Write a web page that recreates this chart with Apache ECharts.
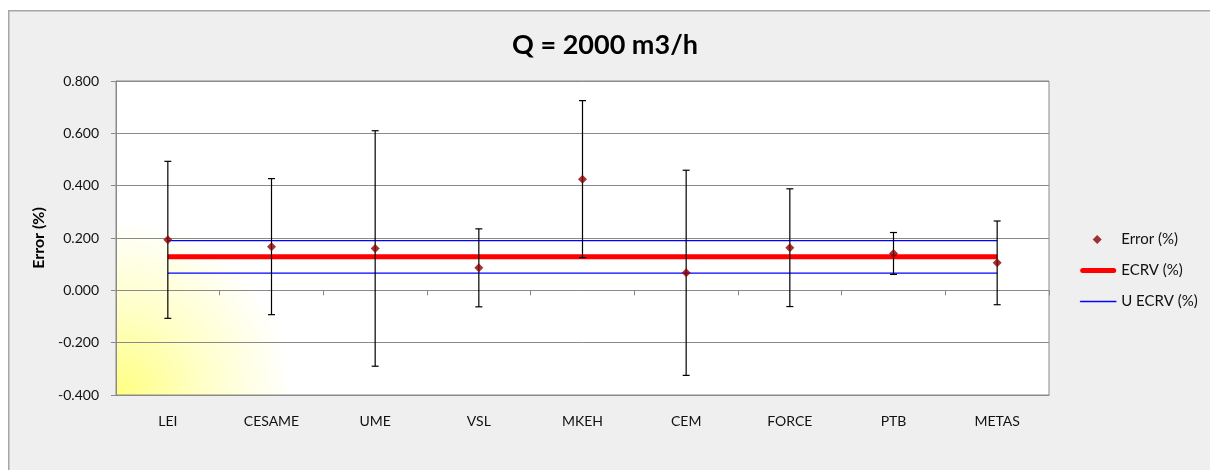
<!DOCTYPE html>
<html>
<head>
<meta charset="utf-8">
<script src="https://cdn.jsdelivr.net/npm/echarts@6/dist/echarts.min.js"></script>
<style>
html,body{margin:0;padding:0;background:#ffffff;}
#chart{width:1210px;height:470px;}
</style>
</head>
<body>
<div id="chart"></div>
<script>
const categories = ['LEI','CESAME','UME','VSL','MKEH','CEM','FORCE','PTB','METAS'];
const errorValues = [0.193, 0.167, 0.160, 0.086, 0.425, 0.067, 0.163, 0.141, 0.105];
const errorUncert = [0.300, 0.260, 0.450, 0.149, 0.300, 0.392, 0.225, 0.080, 0.160];
const ecrvValues  = [0.128, 0.128, 0.128, 0.128, 0.128, 0.128, 0.128, 0.128, 0.128];
const uEcrvUpper  = [0.190, 0.190, 0.190, 0.190, 0.190, 0.190, 0.190, 0.190, 0.190];
const uEcrvLower  = [0.066, 0.066, 0.066, 0.066, 0.066, 0.066, 0.066, 0.066, 0.066];
const yTicks = [-0.4, -0.2, 0, 0.2, 0.4, 0.6, 0.8];

const FONT = 'Lato, "Open Sans", sans-serif';
const barData = categories.map((c, i) => [i, errorValues[i] - errorUncert[i], errorValues[i] + errorUncert[i]]);

const chart = echarts.init(document.getElementById('chart'), null, {renderer: 'canvas'});
chart.setOption({
  backgroundColor: '#ffffff',
  animation: false,
  textStyle: {fontFamily: FONT},
  graphic: [{
    type: 'rect', left: 8, top: 10, z: -100, silent: true,
    shape: {width: 1230, height: 490},
    style: {fill: '#efefef', stroke: '#a6a6a6', lineWidth: 1.5}
  }],
  title: {
    text: 'Q = 2000 m3/h',
    left: 'center', top: 27,
    textStyle: {fontFamily: FONT, fontSize: 27, fontWeight: 'bold', color: '#000'}
  },
  legend: {
    orient: 'vertical',
    left: 1075, top: 227,
    itemWidth: 36, itemHeight: 10, itemGap: 16,
    textStyle: {fontFamily: FONT, fontSize: 15, color: '#111'},
    data: [
      {name: 'Error (%)', icon: 'path://M0,0 M17,0.5 L21.5,5 L17,9.5 L12.5,5 Z M36,10',
        itemStyle: {color: '#8b0000', borderWidth: 0}},
      {name: 'ECRV (%)', icon: 'path://M0,0 M2.5,2.5 L33.5,2.5 Q36,2.5 36,5 Q36,7.5 33.5,7.5 L2.5,7.5 Q0,7.5 0,5 Q0,2.5 2.5,2.5 Z M36,10',
        itemStyle: {color: '#ff0000', borderWidth: 0}},
      {name: 'U ECRV (%)', icon: 'path://M0,0 M0,4.4 L36,4.4 L36,5.6 L0,5.6 Z M36,10',
        itemStyle: {color: '#0000ff', borderColor: '#0000ff', borderWidth: 0.4},
        lineStyle: {color: '#0000ff'}}
    ]
  },
  grid: {
    left: 116, right: 161, top: 81, bottom: 75,
    show: true,
    borderColor: '#8a8a8a', borderWidth: 1,
    backgroundColor: new echarts.graphic.RadialGradient(0, 1, 0.56, [
      {offset: 0, color: '#ffff80'},
      {offset: 0.5, color: '#ffffc8'},
      {offset: 1, color: '#ffffff'}
    ])
  },
  xAxis: [{
    type: 'category', data: categories, boundaryGap: true,
    position: 'bottom',
    axisLine: {onZero: false, show: true, lineStyle: {color: '#8a8a8a'}},
    axisTick: {show: false},
    axisLabel: {fontFamily: FONT, fontSize: 14, color: '#111', margin: 19},
    splitLine: {show: false}
  }, {
    type: 'category', data: categories, boundaryGap: true,
    position: 'bottom',
    axisLine: {onZero: true, show: true, lineStyle: {color: '#8a8a8a'}},
    axisTick: {show: true, length: 5, lineStyle: {color: '#8a8a8a'}},
    axisLabel: {show: false},
    splitLine: {show: false}
  }],
  yAxis: {
    type: 'value', min: -0.4, max: 0.8, interval: 0.2,
    name: 'Error (%)', nameLocation: 'middle', nameGap: 64,
    nameTextStyle: {fontFamily: FONT, fontSize: 16, fontWeight: 'bold', color: '#000'},
    axisLine: {show: true, lineStyle: {color: '#8a8a8a'}},
    axisTick: {show: true, length: 5, lineStyle: {color: '#8a8a8a'}},
    axisLabel: {fontFamily: FONT, fontSize: 14, color: '#111', margin: 17,
      formatter: v => yTicks.some(t => Math.abs(t - v) < 1e-9) ? v.toFixed(3) : ''},
    splitLine: {show: true, lineStyle: {color: '#8a8a8a', width: 1}}
  },
  series: [{
    name: 'U ECRV (%)', type: 'line', data: uEcrvUpper,
    symbol: 'none', z: 2, color: '#0000ff',
    lineStyle: {color: '#0000ff', width: 1.3}, itemStyle: {color: '#0000ff'}
  }, {
    name: 'U ECRV (%)', type: 'line', data: uEcrvLower,
    symbol: 'none', z: 2, color: '#0000ff',
    lineStyle: {color: '#0000ff', width: 1.3}, itemStyle: {color: '#0000ff'}
  }, {
    name: 'ECRV (%)', type: 'line', data: ecrvValues,
    symbol: 'none', z: 3, color: '#ff0000',
    lineStyle: {color: '#ff0000', width: 5}, itemStyle: {color: '#ff0000'}
  }, {
    name: 'errbars', type: 'custom', z: 4,
    data: barData,
    encode: {x: 0, y: [1, 2]},
    renderItem: function (params, api) {
      const x = api.value(0);
      const lo = api.coord([x, api.value(1)]);
      const hi = api.coord([x, api.value(2)]);
      const hw = 3.5;
      const st = {stroke: '#000', lineWidth: 1.2};
      return {type: 'group', children: [
        {type: 'line', shape: {x1: lo[0], y1: lo[1], x2: hi[0], y2: hi[1]}, style: st},
        {type: 'line', shape: {x1: lo[0] - hw, y1: lo[1], x2: lo[0] + hw, y2: lo[1]}, style: st},
        {type: 'line', shape: {x1: hi[0] - hw, y1: hi[1], x2: hi[0] + hw, y2: hi[1]}, style: st}
      ]};
    }
  }, {
    name: 'Error (%)', type: 'scatter', data: errorValues,
    symbol: 'diamond', symbolSize: 9, z: 5,
    itemStyle: {color: '#8b0000'}
  }]
});
</script>
</body>
</html>
